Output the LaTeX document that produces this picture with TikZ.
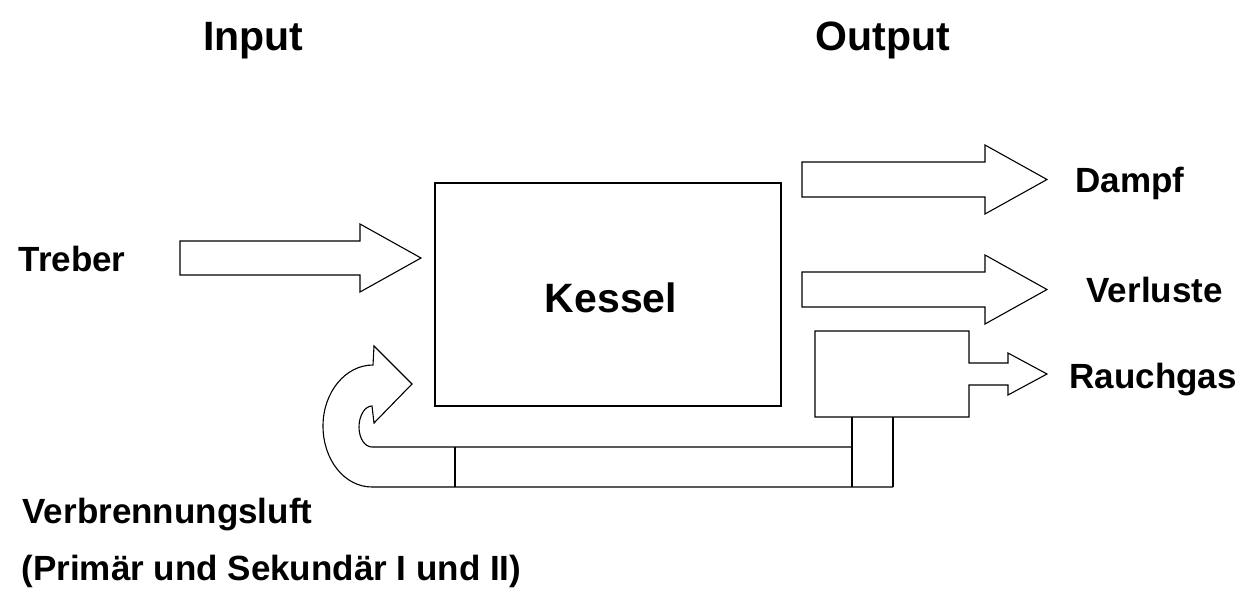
\documentclass[tikz,border=0pt]{standalone}
\usepackage{fontspec}
\setmainfont{Liberation Sans}
\begin{document}
\begin{tikzpicture}[x=1pt, y=-1pt, line width=1.1pt, line join=miter,
		gross/.style={font=\bfseries\fontsize{41}{48}\selectfont, inner sep=0pt},
		klein/.style={font=\bfseries\fontsize{35}{42}\selectfont, inner sep=0pt}]
	
	% 1. Rahmen des Bildes
	\useasboundingbox (0,0) rectangle (1253,592);
	
	% 2. Überschriften
	\node[gross, anchor=base] (input) at (253.5,50) {Input};
	\node[gross, anchor=base] (output) at (883,50) {Output};
	
	% 3. Kessel
	\draw (435,183) rectangle (781,406);
	\node[gross, anchor=base] (kessel) at (611,312) {Kessel};
	
	% 4. Eingang Treber
	\draw (180,241) -- (360,241) -- (360,224) -- (421,258) -- (360,292) -- (360,275) -- (180,275) -- cycle;
	\node[klein, anchor=base west] (treber) at (18,271) {Treber};
	
	% 5. Ausgänge Dampf und Verluste
	\foreach \c in {179.5,289.5}
	\draw (802,\c-17.5) -- (985,\c-17.5) -- (985,\c-34.5) -- (1047,\c) -- (985,\c+34.5) -- (985,\c+17.5) -- (802,\c+17.5) -- cycle;
	\node[klein, anchor=base west] (dampf) at (1075,192) {Dampf};
	\node[klein, anchor=base west] (verluste) at (1086,302) {Verluste};
	
	% 6. Rauchgaskammer mit Ausgang
	\draw (815,331) -- (969,331) -- (969,363) -- (1008,363) -- (1008,353) -- (1047,374) -- (1008,395) -- (1008,385) -- (969,385) -- (969,417) -- (815,417) -- cycle;
	\node[klein, anchor=base west] (rauchgas) at (1069,388) {Rauchgas};
	
	% 7. Steigrohr und Luftkanal
	\draw (852,417) -- (852,487);
	\draw (893,417) -- (893,487);
	\draw (455,447) -- (455,487);
	
	% 8. Luftkanal mit gebogenem Pfeil zum Kessel
	\draw (852,447) -- (372,447)
		.. controls (364.8,447) and (359,438.3) .. (359,427)
		.. controls (359,415.7) and (364.8,406) .. (372,406)
		-- (374,423) -- (412,384) -- (374,346) -- (373,365)
		.. controls (345.4,365) and (323,392.3) .. (323,426)
		.. controls (323,459.7) and (344.4,487) .. (372,487)
		-- (893,487);
	
	% 9. Beschriftung Verbrennungsluft
	\node[klein, anchor=base west] (luft) at (22,523) {Verbrennungsluft};
	\node[klein, anchor=base west] (luftart) at (21,580) {(Primär und Sekundär I und II)};
	
\end{tikzpicture}
\end{document}
